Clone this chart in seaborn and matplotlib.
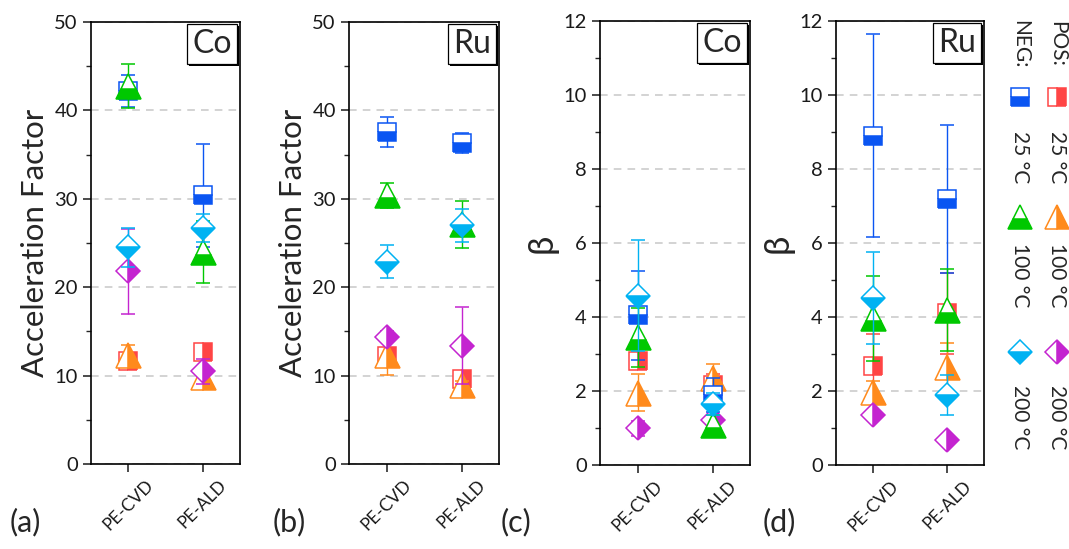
import numpy as np
import pandas as pd
import seaborn as sns
import matplotlib.pyplot as plt
from matplotlib import patheffects

sns.set_style('ticks')
plt.rcParams['font.family'] = ['Lato', 'DejaVu Sans']

groups = ['PE-CVD', 'PE-ALD']
series = ['POS 25', 'POS 100', 'POS 200', 'NEG 25', 'NEG 100', 'NEG 200']

# rows follow `series`, columns follow `groups`
co_af = [[11.6, 12.7], [12.3, 9.8], [21.8, 10.5], [42.2, 30.4], [42.8, 24.0], [24.5, 26.7]]
co_af_err = [[0.5, 0.5], [1.2, 0.5], [4.8, 1.4], [1.8, 5.8], [2.5, 3.5], [2.2, 1.6]]

ru_af = [[12.2, 9.6], [12.3, 8.9], [14.4, 13.4], [37.6, 36.3], [30.4, 27.1], [22.9, 27.0]]
ru_af_err = [[0.6, 0.5], [2.2, 0.5], [0.6, 4.4], [1.7, 1.1], [1.4, 2.7], [1.9, 1.9]]

co_beta = [[2.8, 2.15], [1.95, 2.34], [0.99, 1.22], [4.05, 1.89], [3.45, 1.08], [4.57, 1.65]]
co_beta_err = [[0.1, 0.3], [0.5, 0.4], [0.2, 0.3], [1.2, 0.47], [0.8, 0.27], [1.5, 0.3]]

ru_beta = [[2.68, 4.1], [1.98, 2.66], [1.35, 0.68], [8.9, 7.2], [3.96, 4.19], [4.52, 1.89]]
ru_beta_err = [[0.85, 1.1], [0.3, 0.65], [0.1, 0.1], [2.75, 2.0], [1.15, 1.1], [1.25, 0.55]]

colors = ['#FF4545', '#FF8A1C', '#C424D0', '#0A55F2', '#00C800', '#00B2F2']
markers = ['s', '^', 'D', 's', '^', 'D']
fills = ['right', 'right', 'right', 'bottom', 'bottom', 'bottom']
msizes = {'s': 13, '^': 18, 'D': 12.5}

W, H = 1069, 549
fig = plt.figure(figsize=(W / 100, H / 100), dpi=100)


def px_axes(l, r, t, b):
    return fig.add_axes([l / W, 1 - b / H, (r - l) / W, (b - t) / H])


def draw_panel(ax, vals, errs, ymax, step, ylabel, tag, ylfs):
    rows = []
    for i, s in enumerate(series):
        for j, g in enumerate(groups):
            rows.append(dict(series=s, group=g, x=j, y=vals[i][j], err=errs[i][j]))
    df = pd.DataFrame(rows)
    for i, s in enumerate(series):
        d = df[df.series == s]
        ax.errorbar(d.x, d.y, yerr=d.err, fmt=markers[i], color=colors[i],
                    ms=msizes[markers[i]], mfc=colors[i], mfcalt='white',
                    mec=colors[i], mew=1.1, fillstyle=fills[i],
                    elinewidth=1.0, capsize=4.7, capthick=1.0, zorder=3 + i)
    ax.set_xlim(-0.5, 1.5)
    ax.set_ylim(0, ymax)
    ax.set_xticks([0, 1])
    ax.set_xticklabels(groups, rotation=45, ha='center')
    ax.set_yticks(np.arange(0, ymax + step / 2, step))
    ax.set_yticks(np.arange(step / 2, ymax, step), minor=True)
    ax.yaxis.grid(True, which='major', ls=(0, (5, 4)), color='#C8C8C8', lw=1.1)
    ax.set_axisbelow(True)
    ax.tick_params(axis='both', which='major', direction='out', length=6,
                   width=1.1, labelsize=14.5, colors='#1a1a1a')
    ax.tick_params(axis='x', labelsize=12.5)
    ax.tick_params(axis='y', which='minor', direction='out', length=3.5, width=1.0)
    for sp in ax.spines.values():
        sp.set_visible(True)
        sp.set_color('black')
        sp.set_linewidth(1.2)
    ax.set_ylabel(ylabel, fontsize=ylfs, labelpad=4)
    t = ax.text(0.945, 0.985, tag, transform=ax.transAxes, ha='right', va='top',
                fontsize=23, zorder=20,
                bbox=dict(boxstyle='square,pad=0.16', fc='white', ec='black', lw=0.9))
    t.get_bbox_patch().set_path_effects([
        patheffects.SimplePatchShadow(offset=(1.6, -1.6), shadow_rgbFace='black', alpha=1),
        patheffects.Normal()])


ax_a = px_axes(91, 240, 22, 464)
ax_b = px_axes(349, 499, 22, 464)
ax_c = px_axes(600, 750, 21, 465)
ax_d = px_axes(836, 984, 21, 465)

draw_panel(ax_a, co_af, co_af_err, 50, 10, 'Acceleration Factor', 'Co', 22.5)
draw_panel(ax_b, ru_af, ru_af_err, 50, 10, 'Acceleration Factor', 'Ru', 22.5)
draw_panel(ax_c, co_beta, co_beta_err, 12, 2, 'β', 'Co', 25)
draw_panel(ax_d, ru_beta, ru_beta_err, 12, 2, 'β', 'Ru', 25)

for lab, xp in zip(['(a)', '(b)', '(c)', '(d)'], [25, 289, 516, 779]):
    fig.text(xp / W, 1 - 522 / H, lab, fontsize=22, ha='center', va='center')

# rotated legend strip on the right
leg = fig.add_axes([995 / W, 0, 74 / W, 1])
leg.set_xlim(995, 1069)
leg.set_ylim(H, 0)
leg.axis('off')
col_x = {'POS': 1057, 'NEG': 1020}
temps = ['25 °C', '100 °C', '200 °C']
mark_y = [97, 217, 352]
text_y = [157, 275, 417]
for name, cx in col_x.items():
    leg.text(cx, 44, name + ':', rotation=-90, ha='center', va='center', fontsize=15)
    off = 0 if name == 'POS' else 3
    for k in range(3):
        i = off + k
        leg.plot(cx, mark_y[k], marker=markers[i], ms=msizes[markers[i]] * 0.95,
                 mfc=colors[i], mfcalt='white', mec=colors[i], mew=1.1,
                 fillstyle=fills[i], ls='none')
        leg.text(cx, text_y[k], temps[k], rotation=-90, ha='center', va='center',
                 fontsize=15)

fig.savefig('out.png', dpi=100)
